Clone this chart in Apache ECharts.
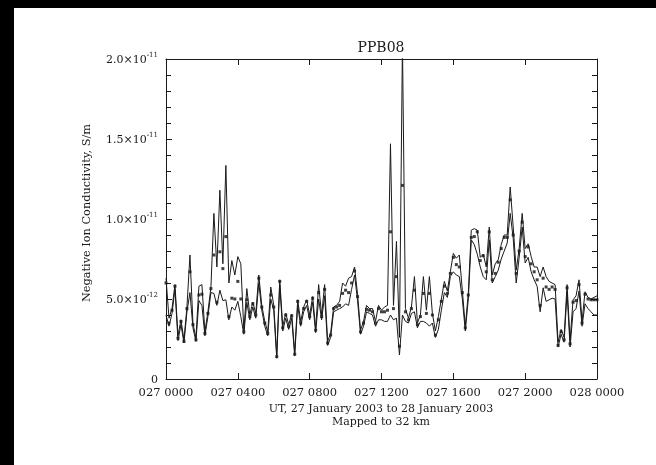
<!DOCTYPE html>
<html>
<head>
<meta charset="utf-8">
<script src="https://cdn.jsdelivr.net/npm/echarts@6/dist/echarts.min.js"></script>
<style>
  html, body { margin: 0; padding: 0; background: #ffffff; }
  #chart { width: 656px; height: 465px; }
</style>
</head>
<body>
<div id="chart"></div>
<script>
// PPB08 negative ion conductivity, one reading every 10 minutes,
// 27 Jan 2003 00:00 UT to 28 Jan 2003 00:00 UT. Values in 1e-12 S/m.
const STEP_HOURS = 1 / 6;

const upper = [
  6.3, 3.8, 4.4, 5.9, 2.7, 3.7, 2.45, 4.5, 7.75, 3.5,
  2.55, 5.8, 5.9, 2.95, 4.2, 5.7, 10.35, 7.0, 11.8, 7.2,
  13.35, 6.0, 7.4, 6.5, 7.65, 7.2, 3.05, 5.65, 4.0, 4.8,
  4.1, 6.5, 4.6, 3.6, 2.95, 5.75, 4.6, 1.5, 6.2, 3.3,
  4.1, 3.4, 4.05, 1.65, 4.95, 3.6, 4.5, 4.95, 4.0, 5.15,
  3.15, 5.9, 4.0, 5.9, 2.35, 2.85, 4.5, 4.6, 4.85, 6.0,
  5.8, 6.3, 6.4, 7.0, 5.3, 3.05, 3.6, 4.6, 4.4, 4.4,
  3.6, 4.6, 4.3, 4.5, 4.6, 14.7, 4.6, 8.6, 2.6, 21.0,
  4.4, 3.8, 4.5, 6.4, 3.5, 4.0, 6.4, 4.3, 6.4, 4.1,
  3.0, 3.9, 5.0, 6.1, 5.5, 6.7, 7.85, 7.55, 7.75, 5.55,
  3.3, 5.35, 9.3, 9.4, 9.3, 7.6, 7.8, 7.0, 9.5, 6.5,
  7.2, 7.45, 8.4, 9.0, 9.0, 12.0, 9.5, 6.8, 8.15, 10.35,
  8.15, 8.45, 7.65, 7.0, 7.0, 6.4, 7.0, 6.4, 6.1, 6.0,
  5.9, 2.3, 3.1, 2.6, 5.9, 2.4, 4.95, 5.2, 6.2, 3.6,
  5.45, 5.1, 5.0, 5.1, 5.2
];

const center = [
  6.0, 3.5, 4.3, 5.8, 2.55, 3.6, 2.35, 4.4, 6.7, 3.4,
  2.45, 5.25, 5.3, 2.85, 4.1, 5.65, 7.75, 4.8, 7.95, 6.9,
  8.9, 3.9, 5.05, 5.0, 6.1, 5.0, 2.95, 4.95, 3.9, 4.7,
  4.0, 6.3, 4.5, 3.5, 2.85, 5.25, 4.5, 1.4, 6.1, 3.2,
  4.0, 3.3, 3.95, 1.55, 4.85, 3.5, 4.4, 4.85, 3.9, 5.05,
  3.05, 5.4, 3.9, 5.6, 2.25, 2.75, 4.4, 4.5, 4.6, 5.35,
  5.55, 5.4, 6.0, 6.75, 5.15, 2.95, 3.5, 4.35, 4.3, 4.2,
  3.5, 4.4, 4.2, 4.2, 4.3, 9.2, 4.4, 6.4, 2.05, 12.1,
  4.2, 3.7, 4.4, 5.55, 3.4, 3.9, 5.35, 4.1, 5.35, 4.0,
  2.75, 3.7, 4.85, 5.8, 5.35, 6.6, 7.6, 7.15, 7.0, 5.4,
  3.2, 5.25, 8.85, 8.9, 9.2, 7.4, 7.7, 6.7, 9.2, 6.2,
  6.6, 7.3, 8.15, 8.85, 8.85, 11.2, 9.0, 6.6, 8.0, 9.8,
  7.65, 8.25, 7.2, 6.7, 6.2, 4.6, 6.3, 5.75, 5.6, 5.75,
  5.6, 2.1, 2.95, 2.45, 5.7, 2.2, 4.8, 4.9, 5.9, 3.5,
  5.3, 5.0, 4.95, 4.95, 4.95
];

const lower = [
  4.0, 3.3, 4.1, 5.6, 2.4, 3.4, 2.25, 4.2, 5.4, 3.2,
  2.35, 4.9, 4.6, 2.7, 3.9, 5.4, 5.35, 4.6, 5.55, 4.9,
  4.95, 3.7, 4.5, 4.3, 4.85, 3.9, 2.8, 4.8, 3.7, 4.5,
  3.8, 6.0, 4.3, 3.3, 2.7, 5.0, 4.3, 1.3, 5.9, 3.0,
  3.8, 3.1, 3.8, 1.45, 4.6, 3.3, 4.2, 4.6, 3.7, 4.8,
  2.9, 5.0, 3.7, 5.2, 2.1, 2.6, 4.2, 4.3, 4.4, 4.5,
  4.7, 4.6, 5.6, 6.5, 4.9, 2.8, 3.3, 4.2, 4.1, 4.0,
  3.3, 3.7, 3.7, 3.6, 3.6, 4.0, 3.7, 3.8, 1.5, 4.0,
  3.6, 3.5, 4.1, 4.2, 3.2, 3.6, 3.6, 3.5, 3.3, 3.5,
  2.6, 3.1, 4.3, 5.4, 5.1, 6.4, 6.7, 6.5, 6.4, 5.0,
  3.0, 5.0, 8.7, 8.4, 7.8, 7.0, 6.4, 6.2, 8.7, 6.0,
  6.4, 6.8, 7.5, 8.0, 8.5, 10.35, 8.8, 6.0, 7.6, 9.5,
  7.25, 7.6, 6.7, 6.2, 5.8, 4.2, 5.7, 4.85, 4.95, 5.05,
  5.0, 2.0, 2.8, 2.3, 5.4, 2.0, 4.2, 4.4, 5.5, 3.3,
  4.7, 4.4, 4.2, 4.0, 4.0
];

const xTickLabels = ['027 0000', '027 0400', '027 0800', '027 1200', '027 1600', '027 2000', '028 0000'];
const yTickMantissa = ['0', '5.0', '1.0', '1.5', '2.0'];
const yTickExponent = ['', '-12', '-11', '-11', '-11'];

const FONT = '"DejaVu Serif", "Liberation Serif", serif';
const INK = '#1a1a1a';

const withTime = arr => arr.map((v, i) => [i * STEP_HOURS, v]);

const chart = echarts.init(document.getElementById('chart'), null, { renderer: 'canvas' });

const frameAxisLine = { show: true, onZero: false, lineStyle: { color: INK, width: 1 } };
const majorTick = { show: true, inside: true, length: 6, lineStyle: { color: INK, width: 1 } };
const noLabel = { show: false };
const noSplit = { show: false };

// Fine ticks every 1e-12 on both vertical frame edges, drawn as extra tick-only axes
const fineTickAxis = pos => ({
  type: 'value', min: 0, max: 20, interval: 1, position: pos, offset: 0,
  axisLine: { show: false, onZero: false },
  axisTick: { show: true, inside: true, length: 5, lineStyle: { color: INK, width: 1 } },
  axisLabel: noLabel, splitLine: noSplit
});

chart.setOption({
  animation: false,
  backgroundColor: '#ffffff',
  grid: { left: 166, right: 59, top: 59, bottom: 86, containLabel: false },
  xAxis: [
    {
      type: 'value', min: 0, max: 24, interval: 4, position: 'bottom',
      axisLine: frameAxisLine, axisTick: majorTick, splitLine: noSplit,
      axisLabel: {
        margin: 8, color: INK, fontFamily: FONT, fontSize: 11.5,
        formatter: v => xTickLabels[Math.round(v / 4)]
      }
    },
    {
      type: 'value', min: 0, max: 24, interval: 4, position: 'top',
      axisLine: frameAxisLine, axisTick: majorTick, splitLine: noSplit,
      axisLabel: noLabel
    }
  ],
  yAxis: [
    {
      type: 'value', min: 0, max: 20, interval: 5, position: 'left', offset: 0,
      axisLine: frameAxisLine, axisTick: majorTick, splitLine: noSplit,
      axisLabel: {
        margin: 8, color: INK, fontFamily: FONT, fontSize: 11,
        formatter: v => {
          const k = Math.round(v / 5);
          return yTickExponent[k]
            ? '{m|' + yTickMantissa[k] + '×10}{e|' + yTickExponent[k] + '}'
            : '{m|' + yTickMantissa[k] + '}';
        },
        rich: {
          m: { fontFamily: FONT, fontSize: 11, color: INK, lineHeight: 14, verticalAlign: 'bottom' },
          e: { fontFamily: FONT, fontSize: 7, color: INK, lineHeight: 14, verticalAlign: 'top' }
        }
      }
    },
    {
      type: 'value', min: 0, max: 20, interval: 5, position: 'right', offset: 0,
      axisLine: frameAxisLine, axisTick: majorTick, splitLine: noSplit,
      axisLabel: noLabel
    },
    fineTickAxis('left'),
    fineTickAxis('right')
  ],
  series: [
    {
      name: 'upper', type: 'line', data: withTime(upper), clip: true,
      symbol: 'none', lineStyle: { color: INK, width: 1 }
    },
    {
      name: 'lower', type: 'line', data: withTime(lower), clip: true,
      symbol: 'none', lineStyle: { color: INK, width: 1 }
    },
    {
      name: 'center', type: 'scatter', data: withTime(center),
      symbol: 'rect', symbolSize: 3, itemStyle: { color: '#111111' }
    }
  ],
  graphic: [
    { type: 'rect', shape: { x: 0, y: 0, width: 14, height: 465 }, style: { fill: '#000000' }, silent: true },
    { type: 'rect', shape: { x: 0, y: 0, width: 656, height: 8 }, style: { fill: '#000000' }, silent: true },
    {
      type: 'text', x: 381, y: 48,
      style: { text: 'PPB08', fill: INK, font: '14px ' + FONT, textAlign: 'center', textVerticalAlign: 'middle' }
    },
    {
      type: 'text', x: 381, y: 409,
      style: { text: 'UT, 27 January 2003 to 28 January 2003', fill: INK, font: '11px ' + FONT, textAlign: 'center', textVerticalAlign: 'middle' }
    },
    {
      type: 'text', x: 381, y: 422,
      style: { text: 'Mapped to 32 km', fill: INK, font: '11px ' + FONT, textAlign: 'center', textVerticalAlign: 'middle' }
    },
    {
      type: 'text', x: 87, y: 213, rotation: Math.PI / 2,
      style: { text: 'Negative Ion Conductivity, S/m', fill: INK, font: '11.3px ' + FONT, textAlign: 'center', textVerticalAlign: 'middle' }
    }
  ]
});
</script>
</body>
</html>
